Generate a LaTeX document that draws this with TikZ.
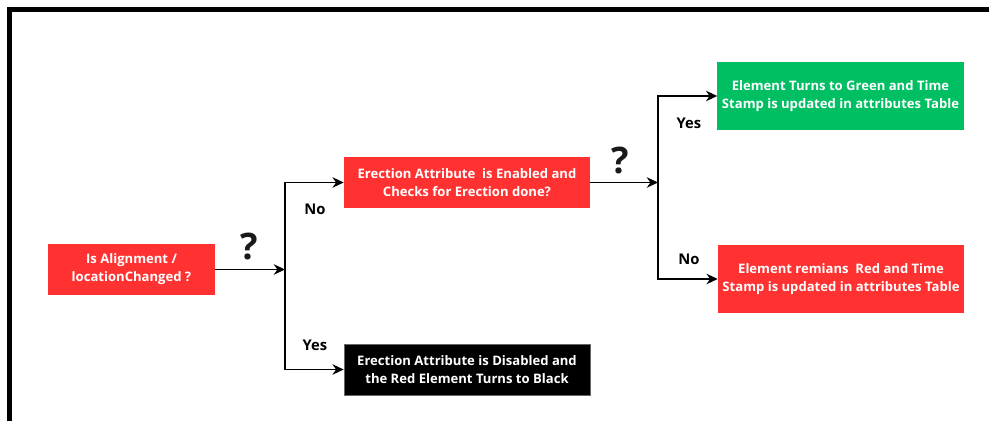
\documentclass[tikz,border=0pt]{standalone}
\usepackage{fontspec}
\setmainfont{Open Sans}
\usepackage{xcolor}
\usepackage{tikz}
\usetikzlibrary{positioning,arrows.meta}

\definecolor{boxred}{HTML}{FF3131}
\definecolor{boxgreen}{HTML}{00BF63}

\begin{document}
\begin{tikzpicture}[x=0.025cm, y=-0.025cm,
		flowbox/.style={rectangle, text=white, font=\fontsize{9.3}{12.8}\selectfont\bfseries, align=center, inner sep=0pt},
		redbox/.style={flowbox, fill=boxred, minimum width=6.15cm, minimum height=1.275cm},
		greenbox/.style={flowbox, fill=boxgreen, minimum width=6.15cm, minimum height=1.7cm},
		blackbox/.style={flowbox, fill=black, draw=black!60, minimum width=6.15cm, minimum height=1.275cm},
		answer/.style={font=\fontsize{10.5}{12}\selectfont\bfseries},
		query/.style={font=\fontsize{26}{28}\selectfont\bfseries, text=black!90},
		flow/.style={-{Stealth[length=8pt, width=7.5pt]}, line width=1pt},
	]

		\useasboundingbox (0,0) rectangle (989,421);
		\draw[line width=2.9pt] (9.5,421) -- (9.5,9.5) -- (989,9.5);

		% nodes
		\node[redbox, minimum width=4.175cm] (changed) at (131.5,269.5) {Is Alignment /\\ locationChanged ?};
		\node[redbox]   (enabled)  at (467,182.5) {Erection Attribute \ is Enabled and\\ Checks for Erection done?};
		\node[blackbox] (disabled) at (467,369.5) {Erection Attribute is Disabled and\\ the Red Element Turns to Black};
		\node[greenbox] (green)    at (840.5,96)  {Element Turns to Green and Time\\ Stamp is updated in attributes Table};
		\node[redbox, minimum height=1.7cm] (stillred) at (841,279) {Element remians \ Red and Time\\ Stamp is updated in attributes Table};

		\coordinate (split1) at (285,269.5);
		\coordinate (split2) at (658,182.5);

		% labels
		\node[query]  (q1)   at (249,247) {?};
		\node[query]  (q2)   at (620,161) {?};
		\node[answer] (no1)  at (315,209) {No};
		\node[answer] (yes1) at (315,345) {Yes};
		\node[answer] (yes2) at (689,123) {Yes};
		\node[answer] (no2)  at (689,259) {No};

		% lines
		\draw[flow] (changed.east) -- (split1);
		\draw[flow] (split1) |- (enabled.west);
		\draw[flow] (split1) |- (disabled.west);
		\draw[flow] (enabled.east) -- (split2);
		\draw[flow] (split2) |- (green.west);
		\draw[flow] (split2) |- (stillred.west);

	\end{tikzpicture}
\end{document}
